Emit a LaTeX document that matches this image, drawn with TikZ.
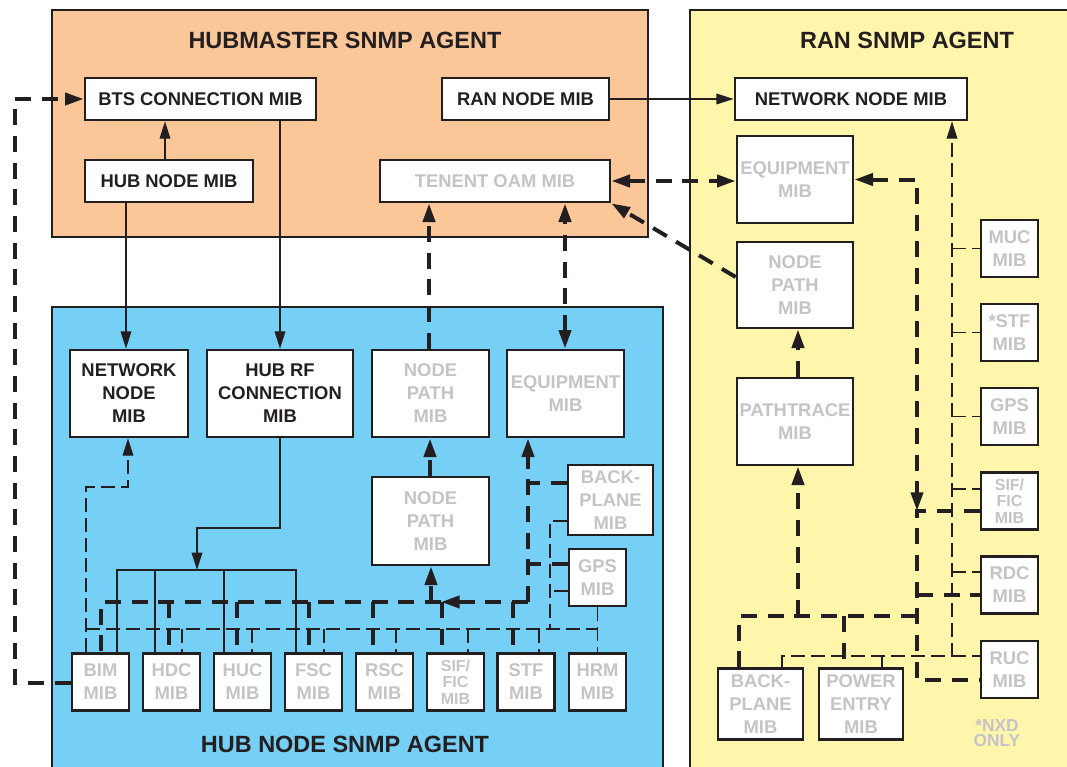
\documentclass[tikz,border=0pt]{standalone}
\usepackage{fontspec}
\setmainfont{Liberation Sans}
\usetikzlibrary{arrows.meta}
\definecolor{hubmasterfill}{RGB}{251,199,153}
\definecolor{hubnodefill}{RGB}{118,207,244}
\definecolor{ranfill}{RGB}{255,246,172}
\definecolor{ink}{RGB}{35,31,32}
\definecolor{dim}{RGB}{196,196,200}
\tikzset{
  panel/.style={draw=ink, line width=2.2pt},
  mib/.style 2 args={draw=ink, fill=white, line width=2pt,
    minimum width=#1*0.75pt, minimum height=#2*0.75pt, inner sep=0pt,
    align=center, text=ink, font=\bfseries\fontsize{13.8}{17.2}\selectfont},
  off/.style={text=dim},
  small/.style={font=\bfseries\fontsize{12}{12.4}\selectfont},
  agent/.style={text=ink, font=\bfseries\fontsize{17.6}{20}\selectfont},
  link/.style={draw=ink, line width=1pt},
  weak/.style={draw=ink, line width=1pt, dash pattern=on 10.5pt off 4.5pt},
  strong/.style={draw=ink, line width=3pt, dash pattern=on 12pt off 8pt},
  thinhead/.style={-{Triangle[length=13pt,width=8pt]}},
  headend/.style={-{Triangle[length=14pt,width=9pt]}},
  headboth/.style={{Triangle[length=14pt,width=9pt]}-{Triangle[length=14pt,width=9pt]}},
}
\begin{document}
\begin{tikzpicture}[x=0.75pt, y=-0.75pt]
\useasboundingbox (0,0) rectangle (1067,767);
\clip (0,0) rectangle (1067,767);
\fill[white] (0,0) rectangle (1067,767);

% agent panels
\draw[panel, fill=hubmasterfill] (52,10) rectangle (648,237);
\draw[panel, fill=hubnodefill] (52,307) rectangle (663,790);
\draw[panel, fill=ranfill] (690,10) rectangle (1090,790);
\node[agent] (tHM) at (345,40) {HUBMASTER SNMP AGENT};
\node[agent] (tRAN) at (907,40) {RAN SNMP AGENT};
\node[agent] (tHN) at (345,744) {HUB NODE SNMP AGENT};

% hubmaster MIBs
\node[mib={231}{42}] (bts) at (200.5,99) {BTS CONNECTION MIB};
\node[mib={167}{42}] (rannode) at (525.5,99) {RAN NODE MIB};
\node[mib={168}{42}] (hubnode) at (169,181) {HUB NODE MIB};
\node[mib={230}{42}, off] (tenent) at (495,181) {TENENT OAM MIB};

% RAN MIBs
\node[mib={232}{42}] (netR) at (851,99) {NETWORK NODE MIB};
\node[mib={116}{87}, off] (equipR) at (795,179.5) {EQUIPMENT\\MIB};
\node[mib={116}{86}, off] (npathR) at (795,285) {NODE\\PATH\\MIB};
\node[mib={116}{87}, off] (ptrace) at (795,421.5) {PATHTRACE\\MIB};
\node[mib={57}{57}, off] (muc) at (1009.5,248.5) {MUC\\MIB};
\node[mib={57}{57}, off] (stfR) at (1009.5,332.5) {*STF\\MIB};
\node[mib={57}{57}, off] (gpsR) at (1009.5,416.5) {GPS\\MIB};
\node[mib={57}{57}, off, small] (sifR) at (1009.5,501) {SIF/\\FIC\\MIB};
\node[mib={57}{57}, off] (rdc) at (1009.5,585) {RDC\\MIB};
\node[mib={57}{57}, off] (ruc) at (1009.5,669.5) {RUC\\MIB};
\node[mib={85}{71}, off] (bpR) at (760.5,704) {BACK-\\PLANE\\MIB};
\node[mib={84}{71}, off] (power) at (861,704) {POWER\\ENTRY\\MIB};
\node[text=dim, align=center, font=\bfseries\fontsize{13}{11.5}\selectfont] (nxd) at (997,733) {*NXD\\ONLY};

% hub node MIBs
\node[mib={118}{87}] (netH) at (129,393.5) {NETWORK\\NODE\\MIB};
\node[mib={146}{87}] (hubrf) at (280,393.5) {HUB RF\\CONNECTION\\MIB};
\node[mib={117}{87}, off] (npathH1) at (430.5,393.5) {NODE\\PATH\\MIB};
\node[mib={117}{87}, off] (equipH) at (565.5,393.5) {EQUIPMENT\\MIB};
\node[mib={117}{88}, off] (npathH2) at (430.5,521) {NODE\\PATH\\MIB};
\node[mib={85}{70}, off] (bpH) at (610.5,500) {BACK-\\PLANE\\MIB};
\node[mib={57}{57}, off] (gpsH) at (597.5,577.5) {GPS\\MIB};
\node[mib={57}{57}, off] (bim) at (100.5,682) {BIM\\MIB};
\node[mib={57}{57}, off] (hdc) at (171.5,682) {HDC\\MIB};
\node[mib={57}{57}, off] (huc) at (242.5,682) {HUC\\MIB};
\node[mib={57}{57}, off] (fsc) at (313.5,682) {FSC\\MIB};
\node[mib={57}{57}, off] (rsc) at (384.5,682) {RSC\\MIB};
\node[mib={57}{57}, off, small] (sifH) at (455.5,682) {SIF/\\FIC\\MIB};
\node[mib={57}{57}, off] (stfH) at (526,682) {STF\\MIB};
\node[mib={57}{57}, off] (hrm) at (597.5,682) {HRM\\MIB};

% junction points
\coordinate (rfbus) at (197,570);
\coordinate (hthin) at (86,629);
\coordinate (hthick) at (528,602);
\coordinate (rthin) at (952,656);
\coordinate (rhub) at (917,511);
\coordinate (rbus) at (917,616);

% solid links
\draw[link, thinhead] (165,0 |- hubnode.north) -- (165,0 |- bts.south);
\draw[link, thinhead] (rannode.east) -- (netR.west);
\draw[link, thinhead] (126,0 |- hubnode.south) -- (126,0 |- netH.north);
\draw[link, thinhead] (280,0 |- bts.south) -- (hubrf.north);
\draw[link, thinhead] (hubrf.south) -- (280,528) -- (197,528) -- (rfbus);
\draw[link] (117,0 |- bim.north) -- (117,570) -- (296,570) -- (296,0 |- fsc.north);
\draw[link] (155,570) -- (155,0 |- hdc.north);
\draw[link] (224,570) -- (224,0 |- huc.north);

% thin dashed links, hub node
\draw[weak, thinhead] (86,0 |- bim.north) -- (86,487) -- (128,487) -- (128,0 |- netH.south);
\draw[weak] (hthin) -- (598,629);
\foreach \x/\n in {182/hdc, 252/huc, 324/fsc, 396/rsc, 468/sifH, 539/stfH}
  \draw[weak] (\x,629) -- (\x,0 |- \n.north);
\draw[weak] (gpsH.south) -- (hrm.north);
\draw[weak] (bpH.west |- 0,521) -- (550,521) -- (550,629);
\draw[weak] (gpsH.west |- 0,591) -- (550,591);

% thin dashed links, RAN
\draw[weak, thinhead] (782,0 |- bpR.north) -- (782,656) -- (rthin) -- (952,0 |- netR.south);
\draw[weak] (882,0 |- power.north) -- (882,656);
\draw[weak] (rthin) -- (ruc.west |- 0,656);
\foreach \n in {muc, stfR, gpsR}
  \draw[weak] (952,0 |- \n.west) -- (\n.west);
\draw[weak] (952,489) -- (sifR.west |- 0,489);
\draw[weak] (952,572) -- (rdc.west |- 0,572);

% thick dashed links
\draw[strong, headend] (bim.west |- 0,683) -- (15,683) -- (15,0 |- bts.west) -- (bts.west);
\draw[strong, headend] (429,0 |- npathH1.north) -- (429,0 |- tenent.south);
\draw[strong, headboth] (565,0 |- equipH.north) -- (565,0 |- tenent.south);
\draw[strong, headend] (430,0 |- npathH2.north) -- (430,0 |- npathH1.south);
\draw[strong, headboth] (tenent.east) -- (tenent.east -| equipR.west);
\draw[strong, headend] (npathR.west |- 0,277) -- (tenent.south east);
\draw[strong, headboth] (equipR.east) -- (917,0 |- equipR.east) -- (rhub);
\draw[strong] (sifR.west |- 0,511) -- (rhub) -- (917,680) -- (ruc.west |- 0,680);
\draw[strong] (917,595) -- (rdc.west |- 0,595);
\draw[strong] (rbus) -- (739,616) -- (739,0 |- bpR.north);
\draw[strong] (844,616) -- (844,0 |- power.north);
\draw[strong, headend] (798,616) -- (798,0 |- ptrace.south);
\draw[strong, headend] (798,0 |- ptrace.north) -- (798,0 |- npathR.south);
\draw[strong, headend] (hthick) -- (528,0 |- equipH.south);
\draw[strong] (bpH.west |- 0,483) -- (528,483);
\draw[strong] (gpsH.west |- 0,564) -- (528,564);
\draw[strong, headend] (hthick) -- (441,602);
\draw[strong] (441,602) -- (101,602) -- (101,0 |- bim.north);
\draw[strong, headend] (431,602) -- (431,0 |- npathH2.south);
\foreach \x/\n in {169/hdc, 237/huc, 309/fsc, 373/rsc, 442/sifH, 513/stfH}
  \draw[strong] (\x,602) -- (\x,0 |- \n.north);
\end{tikzpicture}
\end{document}
